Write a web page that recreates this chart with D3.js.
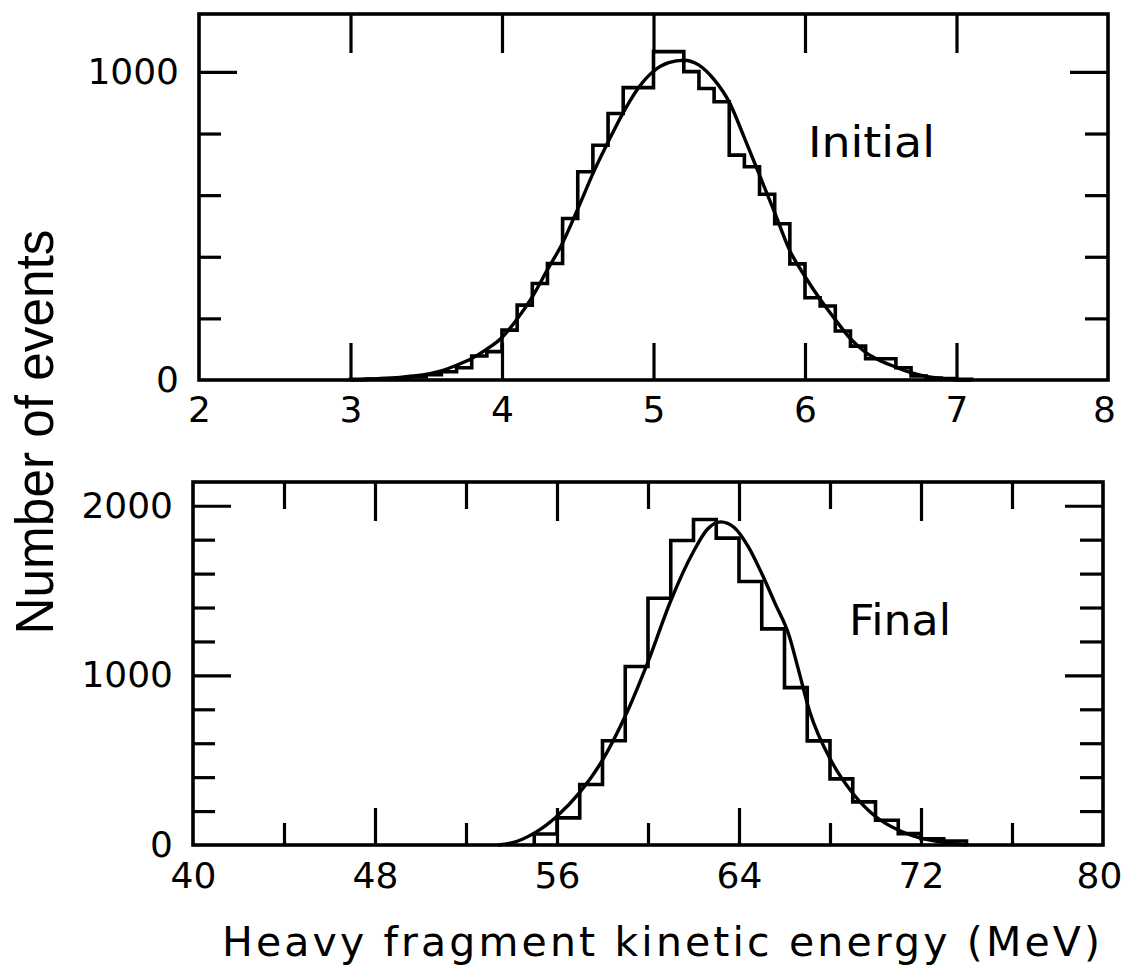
<!DOCTYPE html>
<html>
<head>
<meta charset="utf-8">
<script src="https://cdn.jsdelivr.net/npm/d3@7"></script>
<style>
  html, body { margin: 0; padding: 0; background: #fff; }
  svg { display: block; }
</style>
</head>
<body>
<div id="chart"></div>
<script>
/* global d3 */

// Espectro inicial (MeV) - bordas das classes e contagens
const initialEdges = [3.0, 3.1, 3.2, 3.3, 3.4, 3.5, 3.6, 3.7, 3.8, 3.9, 4.0, 4.1, 4.2, 4.3, 4.4, 4.5, 4.6, 4.7, 4.8, 4.9, 5.0,
  5.1, 5.2, 5.3, 5.4, 5.5, 5.6, 5.7, 5.8, 5.9, 6.0, 6.1, 6.2, 6.3, 6.4, 6.5, 6.6, 6.7, 6.8, 6.9, 7.0, 7.1]
const initialCounts = [2, 3, 5, 7, 11, 17, 27, 40, 78, 92, 162, 243, 313, 378, 524, 676, 762, 865, 949, 949,
  1066, 1066, 1001, 946, 903, 730, 692, 603, 507, 377, 267, 240, 159, 110, 69, 69, 40, 13, 6, 5, 2]
// Curva ajustada
const initialCurveE = [3.0, 3.2, 3.4, 3.6, 3.7, 3.8, 3.9, 4.0, 4.1, 4.2, 4.3, 4.4, 4.5, 4.6, 4.7, 4.8, 4.9, 5.0, 5.1, 5.2,
  5.3, 5.4, 5.5, 5.6, 5.7, 5.8, 5.9, 6.0, 6.1, 6.2, 6.3, 6.4, 6.5, 6.6, 6.7, 6.8, 6.9, 7.0, 7.1]
const initialCurveN = [0, 4, 12, 30, 48, 70, 100, 138, 198, 270, 358, 445, 555, 670, 772, 868, 948, 1002, 1030, 1038,
  1022, 975, 902, 786, 665, 543, 420, 336, 262, 196, 134, 90, 62, 42, 24, 12, 5, 1, 0]

// Espectro final (MeV)
const finalEdges = [55, 56, 57, 58, 59, 60, 61, 62, 63, 64, 65, 66, 67, 68, 69, 70, 71, 72, 73, 74]
const finalCounts = [65, 160, 357, 615, 1052, 1455, 1795, 1919, 1809, 1553, 1274, 928, 614, 390, 254, 146, 67, 37, 24]
const finalCurveE = [53.4, 54, 55, 56, 57, 58, 59, 60, 61, 62, 62.6, 63.2, 63.8, 64.4, 65, 65.6, 66.2, 66.6, 67.1,
  68.1, 69, 70, 71, 72, 73, 74]
const finalCurveN = [0, 12, 70, 170, 310, 500, 760, 1080, 1440, 1730, 1860, 1905, 1870, 1760, 1600, 1420, 1235, 1040, 790,
  485, 305, 168, 88, 40, 16, 0]

// Marcas e rótulos dos eixos
const topXTicks = [3, 4, 5, 6, 7]
const topXLabels = [2, 3, 4, 5, 6, 7, 8]
const topYTicks = [200, 400, 600, 800, 1000]
const topYMajor = [1000]
const topYLabels = [0, 1000]

const bottomXTicks = [44, 48, 52, 56, 60, 64, 68, 72, 76]
const bottomXMajor = [48, 56, 64, 72]
const bottomXLabels = [40, 48, 56, 64, 72, 80]
const bottomYTicks = [200, 400, 600, 800, 1000, 1200, 1400, 1600, 1800, 2000]
const bottomYMajor = [1000, 2000]
const bottomYLabels = [0, 1000, 2000]

const WIDTH = 1126
const HEIGHT = 974
const LABEL_FONT = 'DejaVu Sans, Verdana, sans-serif'
const LINE_W = 3.6

const svg = d3.select('#chart')
  .append('svg')
  .attr('width', WIDTH)
  .attr('height', HEIGHT)
  .style('background', '#fff')

function drawPanel (p) {
  const g = svg.append('g')
  const x = d3.scaleLinear().domain(p.xDomain).range(p.xRange)
  const y = d3.scaleLinear().domain(p.yDomain).range(p.yRange)
  const xMin = x(p.xDomain[0])
  const xMax = x(p.xDomain[1])
  const yBot = y(p.yDomain[0])
  const yTop = y(p.yDomain[1])

  // Marcas interiores nos quatro lados
  const isMajorX = d => p.xMajor.includes(d)
  const isMajorY = d => p.yMajor.includes(d)

  const bottomTicks = g.append('g')
    .attr('transform', `translate(0,${yBot})`)
    .call(d3.axisBottom(x).tickValues(p.xTicks).tickFormat(''))
  bottomTicks.selectAll('.tick line').attr('y2', d => isMajorX(d) ? -37 : -22)

  const topTicks = g.append('g')
    .attr('transform', `translate(0,${yTop})`)
    .call(d3.axisTop(x).tickValues(p.xTicks).tickFormat(''))
  topTicks.selectAll('.tick line').attr('y2', d => isMajorX(d) ? 39 : 27)

  const leftTicks = g.append('g')
    .attr('transform', `translate(${xMin},0)`)
    .call(d3.axisLeft(y).tickValues(p.yTicks).tickFormat(''))
  leftTicks.selectAll('.tick line').attr('x2', d => isMajorY(d) ? 38 : 22)

  const rightTicks = g.append('g')
    .attr('transform', `translate(${xMax},0)`)
    .call(d3.axisRight(y).tickValues(p.yTicks).tickFormat(''))
  rightTicks.selectAll('.tick line').attr('x2', d => isMajorY(d) ? -38 : -23)

  g.selectAll('.domain').remove()
  g.selectAll('.tick line').attr('stroke', '#000').attr('stroke-width', 3.2)

  // Rótulos numéricos
  const xLab = g.append('g')
    .attr('transform', `translate(0,${yBot})`)
    .call(d3.axisBottom(x).tickValues(p.xLabels).tickSize(0).tickPadding(p.xPad).tickFormat(d3.format('d')))
  const yLab = g.append('g')
    .attr('transform', `translate(${xMin},0)`)
    .call(d3.axisLeft(y).tickValues(p.yLabels).tickSize(0).tickPadding(20).tickFormat(d3.format('d')))
  xLab.select('.domain').remove()
  yLab.select('.domain').remove()
  g.selectAll('.tick text')
    .attr('fill', '#000')
    .style('font-family', LABEL_FONT)
    .style('font-size', '36px')
  // o último rótulo encosta na margem direita
  xLab.selectAll('.tick text')
    .attr('dx', d => d === p.xDomain[1] ? -4 : 0)

  // Moldura
  g.append('rect')
    .attr('x', xMin)
    .attr('y', yTop)
    .attr('width', xMax - xMin)
    .attr('height', yBot - yTop)
    .attr('fill', 'none')
    .attr('stroke', '#000')
    .attr('stroke-width', LINE_W)

  // Histograma em degraus
  const steps = [[p.edges[0], 0]]
  p.counts.forEach((c, i) => steps.push([p.edges[i], c]))
  steps.push([p.edges[p.edges.length - 1], p.counts[p.counts.length - 1]])
  steps.push([p.edges[p.edges.length - 1], 0])

  g.append('path')
    .datum(steps)
    .attr('fill', 'none')
    .attr('stroke', '#000')
    .attr('stroke-width', LINE_W)
    .attr('stroke-linejoin', 'miter')
    .attr('d', d3.line().x(d => x(d[0])).y(d => y(d[1])).curve(d3.curveStepAfter))

  // Curva ajustada
  const curvePts = p.curveE.map((e, i) => [e, p.curveN[i]])
  g.append('path')
    .datum(curvePts)
    .attr('fill', 'none')
    .attr('stroke', '#000')
    .attr('stroke-width', 3.4)
    .attr('d', d3.line().x(d => x(d[0])).y(d => y(d[1])).curve(d3.curveMonotoneX))

  g.append('text')
    .attr('x', p.title.x)
    .attr('y', p.title.y)
    .attr('textLength', p.title.len)
    .attr('lengthAdjust', 'spacingAndGlyphs')
    .style('font-family', LABEL_FONT)
    .style('font-size', '43px')
    .style('fill', '#000')
    .text(p.title.text)
}

drawPanel({
  xDomain: [2, 8],
  xRange: [199, 1108],
  yDomain: [0, 1188],
  yRange: [380, 14],
  xTicks: topXTicks,
  xMajor: topXTicks,
  xLabels: topXLabels,
  xPad: 16,
  yTicks: topYTicks,
  yMajor: topYMajor,
  yLabels: topYLabels,
  edges: initialEdges,
  counts: initialCounts,
  curveE: initialCurveE,
  curveN: initialCurveN,
  title: { text: 'Initial', x: 808, y: 157, len: 127 }
})

drawPanel({
  xDomain: [40, 80],
  xRange: [193, 1103],
  yDomain: [0, 2140],
  yRange: [845, 482],
  xTicks: bottomXTicks,
  xMajor: bottomXMajor,
  xLabels: bottomXLabels,
  xPad: 17,
  yTicks: bottomYTicks,
  yMajor: bottomYMajor,
  yLabels: bottomYLabels,
  edges: finalEdges,
  counts: finalCounts,
  curveE: finalCurveE,
  curveN: finalCurveN,
  title: { text: 'Final', x: 849, y: 635, len: 102 }
})

// Legenda eixo y
svg.append('text')
  .attr('text-anchor', 'middle')
  .attr('transform', 'translate(53, 432) rotate(-90)')
  .attr('textLength', 405)
  .attr('lengthAdjust', 'spacingAndGlyphs')
  .style('font-family', 'Liberation Sans, Arial, sans-serif')
  .style('font-size', '53px')
  .style('fill', '#000')
  .text('Number of events')

// Legenda eixo x
svg.append('text')
  .attr('x', 222)
  .attr('y', 956)
  .attr('textLength', 878)
  .attr('lengthAdjust', 'spacing')
  .style('font-family', LABEL_FONT)
  .style('font-size', '41px')
  .style('fill', '#000')
  .text('Heavy fragment kinetic energy (MeV)')
</script>
</body>
</html>
